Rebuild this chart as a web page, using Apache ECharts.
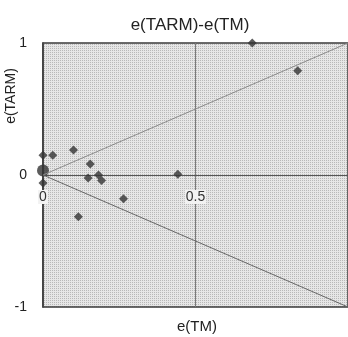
<!DOCTYPE html>
<html>
<head>
<meta charset="utf-8">
<script src="https://cdn.jsdelivr.net/npm/echarts@6/dist/echarts.min.js"></script>
<style>
  html, body {margin: 0; padding: 0; background: #fff;}
  #chart {width: 348px; height: 337px;}
</style>
</head>
<body>
<div id="chart"></div>
<script>
// e(TM) vs e(TARM) points
const tmValues = [0, 0.032, 0.10, 0.155, 0.148, 0.182, 0.192, 0.442, 0.264, 0.116, 0, 0.686, 0.835]
const tarmValues = [0.15, 0.15, 0.19, 0.083, -0.023, 0, -0.042, 0.005, -0.18, -0.316, -0.06, 1.0, 0.79]
// cluster drawn as a bigger dot at the origin
const clusterTm = [0]
const clusterTarm = [0.034]
// reference lines y = x and y = -x
const upperRef = [[0, 0], [1, 1]]
const lowerRef = [[0, 0], [1, -1]]
const xTicks = [0, 0.5, 1]
const yTicks = [-1, 0, 1]

const font = 'Liberation Sans, Arial, sans-serif'

// dotted grey fill like the scanned plot
const pat = document.createElement('canvas')
pat.width = 2
pat.height = 2
const pctx = pat.getContext('2d')
pctx.fillStyle = '#e6e6e6'
pctx.fillRect(0, 0, 2, 2)
pctx.fillStyle = '#b8b8b8'
pctx.fillRect(0, 0, 1, 1)

const chart = echarts.init(document.getElementById('chart'))

const zip = (a, b) => a.map((v, i) => [v, b[i]])

chart.setOption({
  animation: false,
  backgroundColor: '#fff',
  title: {
    text: 'e(TARM)-e(TM)',
    left: 185,
    top: 12,
    textAlign: 'center',
    textStyle: {fontFamily: font, fontSize: 17, fontWeight: 'normal', color: '#222'}
  },
  graphic: [{
    type: 'text',
    x: 197,
    y: 327,
    style: {
      text: 'e(TM)',
      font: '15px ' + font,
      fill: '#222',
      align: 'center',
      verticalAlign: 'middle'
    }
  }, {
    type: 'text',
    x: 11,
    y: 96,
    rotation: Math.PI / 2,
    style: {
      text: 'e(TARM)',
      font: '14px ' + font,
      fill: '#222',
      align: 'center',
      verticalAlign: 'middle'
    }
  }],
  grid: {
    left: 43,
    right: 0,
    top: 43,
    bottom: 30,
    outerBoundsMode: 'none',
    containLabel: false,
    show: true,
    borderColor: '#3a3a3a',
    borderWidth: 1.5,
    backgroundColor: {image: pat, repeat: 'repeat'}
  },
  xAxis: {
    type: 'value',
    min: xTicks[0],
    max: xTicks[xTicks.length - 1],
    interval: 0.5,
    position: 'bottom',
    offset: -132,
    axisLine: {onZero: false, lineStyle: {color: '#555', width: 1.2}},
    axisTick: {show: false},
    axisLabel: {
      fontFamily: font,
      fontSize: 14,
      color: '#333',
      margin: 15,
      backgroundColor: '#f2f2f2',
      padding: [0, 1],
      formatter: v => (v === 1 ? '' : String(v))
    },
    splitLine: {show: true, lineStyle: {color: '#7a7a7a', width: 1}}
  },
  yAxis: {
    type: 'value',
    min: yTicks[0],
    max: yTicks[yTicks.length - 1],
    interval: 1,
    axisLine: {show: true, onZero: false, lineStyle: {color: '#3a3a3a', width: 1.5}},
    axisTick: {show: false},
    axisLabel: {fontFamily: font, fontSize: 14, color: '#222', margin: 16},
    splitLine: {show: false}
  },
  series: [{
    type: 'line',
    data: upperRef,
    symbol: 'none',
    lineStyle: {color: '#8a8a8a', width: 1},
    silent: true
  }, {
    type: 'line',
    data: lowerRef,
    symbol: 'none',
    lineStyle: {color: '#666', width: 1},
    silent: true
  }, {
    type: 'scatter',
    data: zip(tmValues, tarmValues),
    symbol: 'diamond',
    symbolSize: 9,
    itemStyle: {color: '#333'}
  }, {
    type: 'scatter',
    data: zip(clusterTm, clusterTarm),
    symbol: 'circle',
    symbolSize: 12,
    itemStyle: {color: '#333'}
  }]
})
</script>
</body>
</html>
